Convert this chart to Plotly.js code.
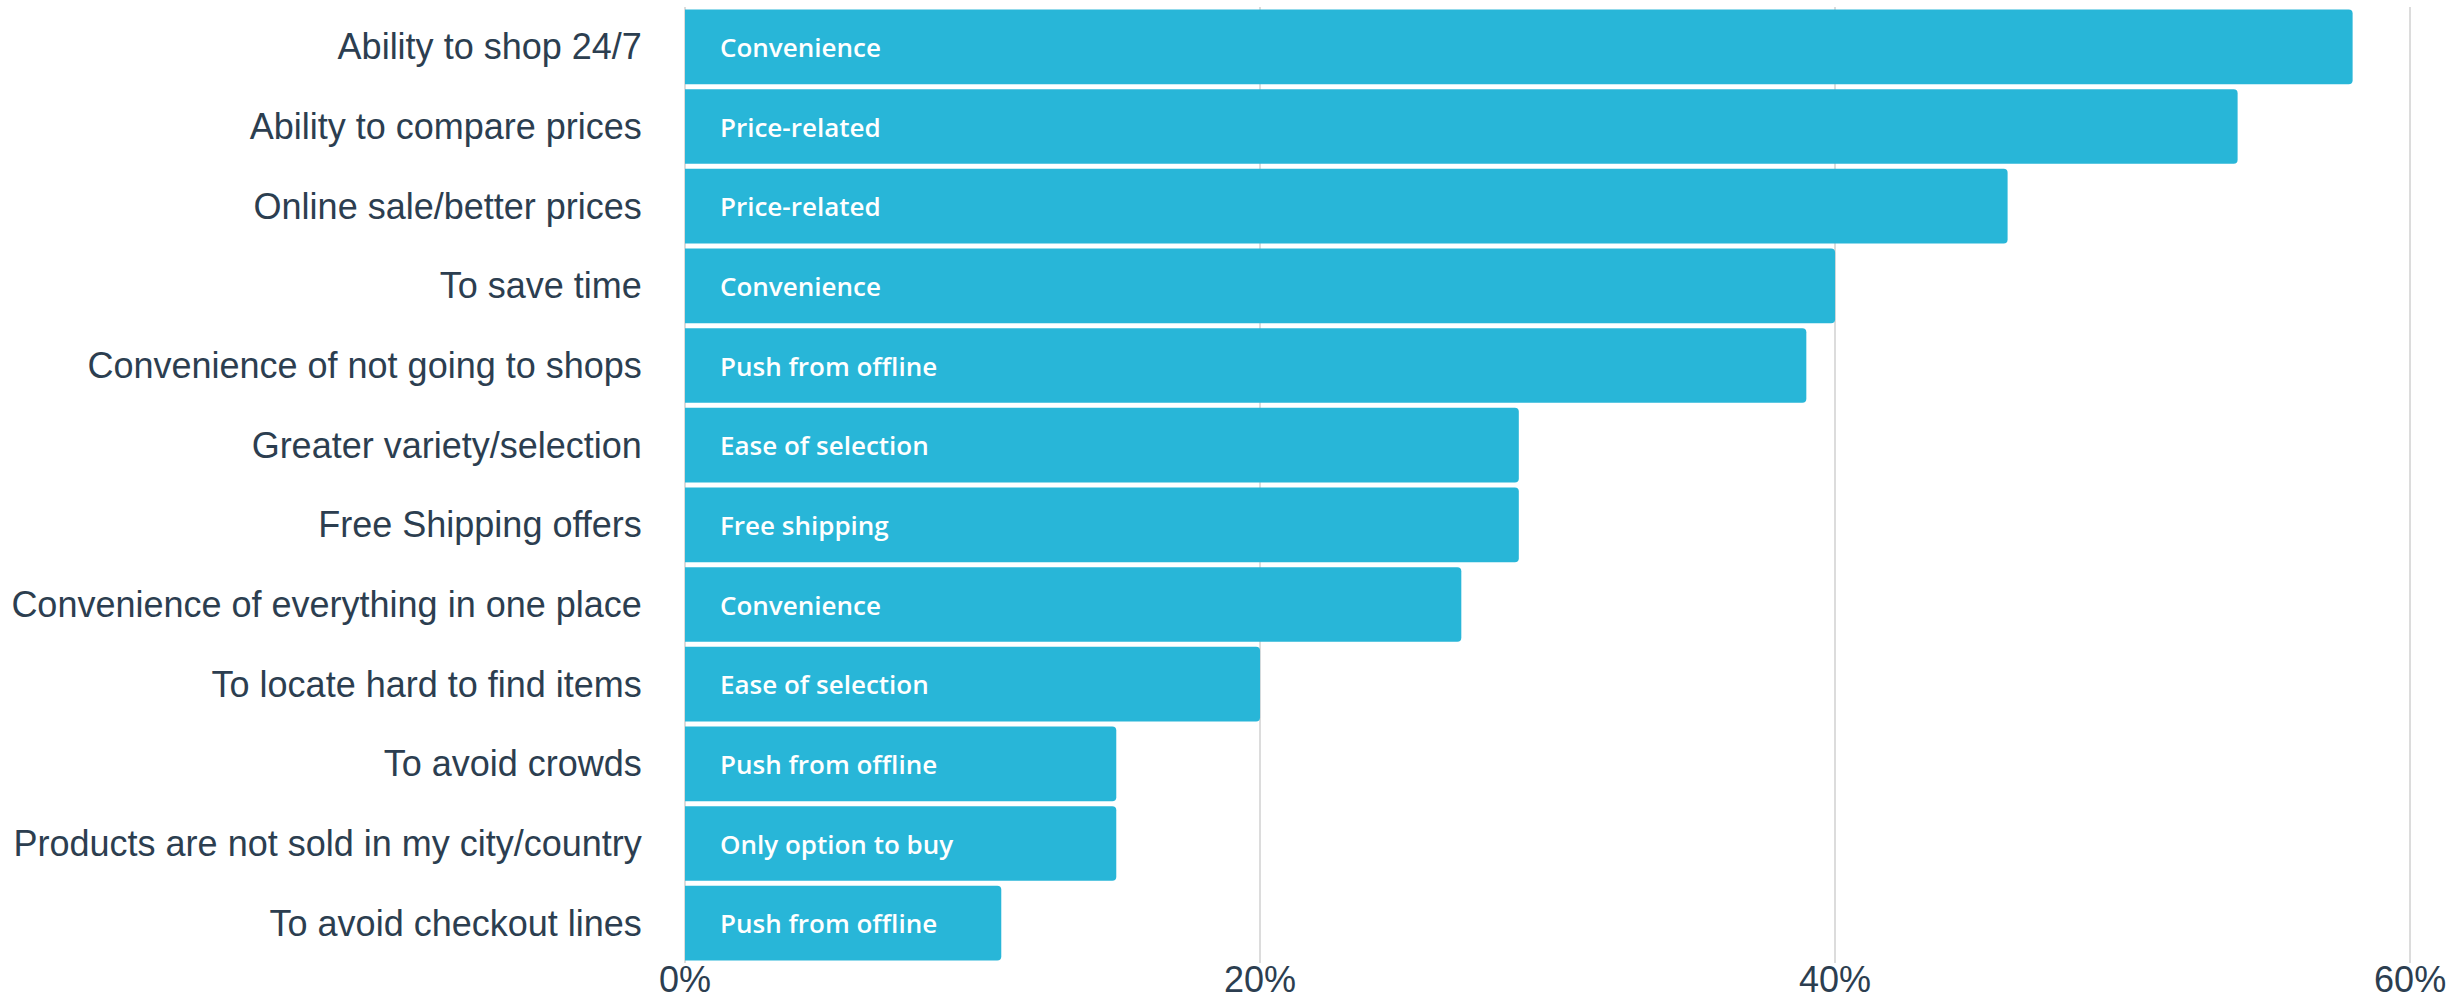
<!DOCTYPE html>
<html>
<head>
<meta charset="utf-8">
<script src="https://cdn.plot.ly/plotly-3.0.1.min.js"></script>
<style>html,body{margin:0;padding:0;background:#fff;}#chart{width:2458px;height:1000px;}</style>
</head>
<body>
<div id="chart"></div>
<script>
const reasons = [
  "Ability to shop 24/7",
  "Ability to compare prices",
  "Online sale/better prices",
  "To save time",
  "Convenience of not going to shops",
  "Greater variety/selection",
  "Free Shipping offers",
  "Convenience of everything in one place",
  "To locate hard to find items",
  "To avoid crowds",
  "Products are not sold in my city/country",
  "To avoid checkout lines"
];
const shares = [58, 54, 46, 40, 39, 29, 29, 27, 20, 15, 15, 11];
const groups = [
  "Convenience", "Price-related", "Price-related", "Convenience",
  "Push from offline", "Ease of selection", "Free shipping", "Convenience",
  "Ease of selection", "Push from offline", "Only option to buy", "Push from offline"
];
const tickVals = [0, 20, 40, 60];
const tickText = ["0%", "20%", "40%", "60%"];

const trace = {
  type: "bar",
  orientation: "h",
  y: reasons,
  x: shares,
  marker: {color: "#28b6d8", cornerradius: 4},
  hoverinfo: "none"
};

const annotations = reasons.map((r, i) => ({
  x: 0, y: r, xref: "x", yref: "y",
  text: groups[i], showarrow: false,
  xanchor: "left", yanchor: "middle", xshift: 33,
  font: {family: "Open Sans", size: 26, color: "#ffffff", weight: 600}
}));

const layout = {
  width: 2458, height: 1000,
  margin: {l: 685, r: 45, t: 7, b: 37},
  paper_bgcolor: "#ffffff", plot_bgcolor: "#ffffff",
  showlegend: false,
  bargap: 0.063,
  xaxis: {
    range: [0, 60.1],
    tickvals: tickVals, ticktext: tickText,
    showgrid: true, gridcolor: "#dcdcdc", gridwidth: 2,
    zeroline: true, zerolinecolor: "#dcdcdc", zerolinewidth: 2,
    showline: false, ticks: "",
    ticklabelstandoff: -8,
    tickfont: {family: "Liberation Sans", size: 36, color: "#2c3e50"}
  },
  yaxis: {
    autorange: "reversed",
    showgrid: false, zeroline: false, showline: false,
    ticks: "outside", ticklen: 35, tickcolor: "rgba(0,0,0,0)",
    tickfont: {family: "Liberation Sans", size: 36, color: "#2c3e50"}
  },
  annotations: annotations
};

Plotly.newPlot("chart", [trace], layout, {staticPlot: true, displayModeBar: false});
</script>
</body>
</html>
